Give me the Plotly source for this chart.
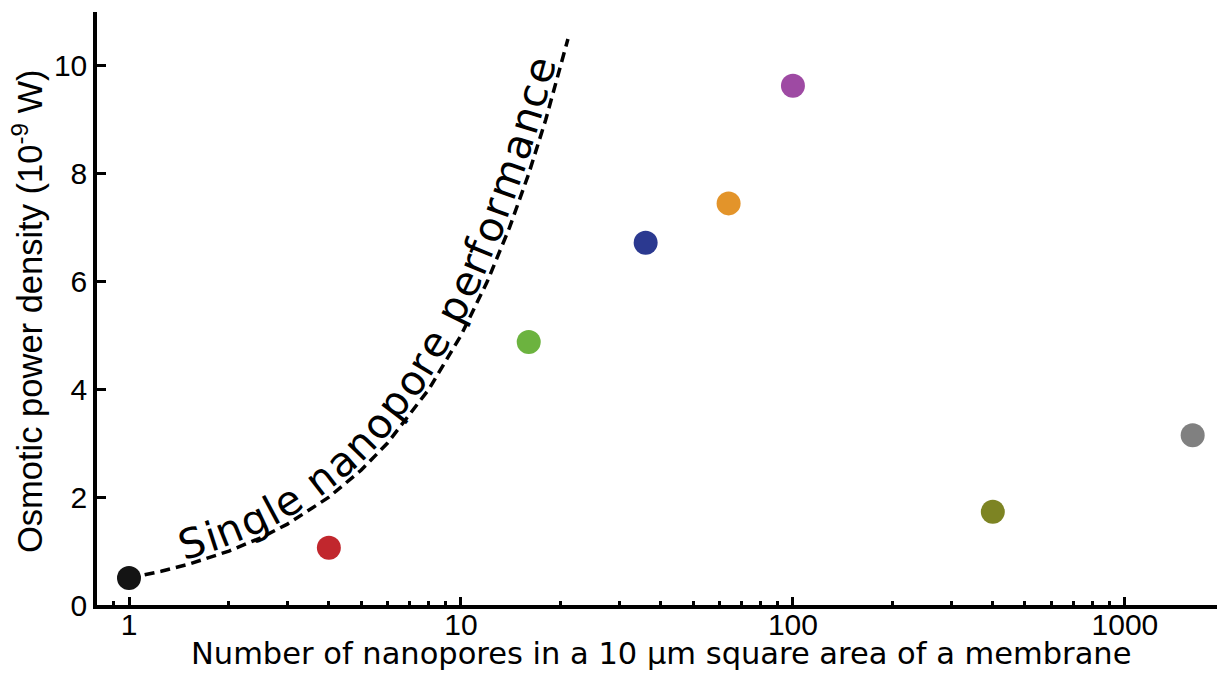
import math
import plotly.graph_objects as go

# ---------------- data ----------------
pores = [1, 4, 16, 36, 64, 100, 400, 1600]
power = [0.50, 1.06, 4.88, 6.72, 7.45, 9.63, 1.73, 3.15]
colors = ["#141414", "#c1272d", "#6cb33f", "#2b3990", "#e3942a",
          "#9e4aa3", "#7d8423", "#808080"]

line_x = [1, 1.25, 1.5, 2, 2.5, 3, 4, 5, 6, 8, 10, 12, 14, 16, 18, 21]
line_y = [0.5, 0.625, 0.75, 1, 1.25, 1.5, 2, 2.5, 3, 4, 5, 6, 7, 8, 9, 10.5]

x_ticks = [1, 10, 100, 1000]
x_ticktext = ["1", "10", "100", "1000"]
x_minor = [0.9, 2, 3, 4, 5, 6, 7, 8, 9, 20, 30, 40, 50, 60, 70, 80, 90,
           200, 300, 400, 500, 600, 700, 800, 900]
y_ticks = [0, 2, 4, 6, 8, 10]

curve_label = "Single nanopore performance"
x_title = "Number of nanopores in a 10 µm square area of a membrane"
y_title = "Osmotic power density (10<sup>-9</sup> W)"

# ---------------- layout geometry ----------------
# the page adds an 8px body margin, so the figure is shrunk by 8px
OFF = 8
W, H = 1225 - OFF, 683 - OFF
ML, MR, MT, MB = 97 - OFF, 0, 12 - OFF, 78
PW, PH = W - ML - MR, H - MT - MB
XR = [-0.0964, 3.3015]   # log10 range
YR = [0, 11]

def to_px(x, y):
    px = ML + (math.log10(x) - XR[0]) / (XR[1] - XR[0]) * PW
    py = MT + (1 - (y - YR[0]) / (YR[1] - YR[0])) * PH
    return px, py

fig = go.Figure()

fig.add_trace(go.Scatter(
    x=line_x, y=line_y, mode="lines",
    line=dict(color="black", width=3.5, dash="10px,6px"),
    hoverinfo="skip", showlegend=False))

fig.add_trace(go.Scatter(
    x=pores, y=power, mode="markers",
    marker=dict(size=24, color=colors, line=dict(width=0)),
    showlegend=False))

# ---------------- curved label along the dashed line ----------------
pts = [to_px(x, y) for x, y in zip(line_x, line_y)]
cum = [0.0]
for i in range(1, len(pts)):
    cum.append(cum[-1] + math.hypot(pts[i][0] - pts[i-1][0], pts[i][1] - pts[i-1][1]))

def point_at(s):
    s = max(0.0, min(s, cum[-1]))
    for i in range(1, len(cum)):
        if s <= cum[i]:
            t = (s - cum[i-1]) / (cum[i] - cum[i-1])
            return (pts[i-1][0] + t * (pts[i][0] - pts[i-1][0]),
                    pts[i-1][1] + t * (pts[i][1] - pts[i-1][1]))
    return pts[-1]

widths = {'S': 0.635, 'i': 0.278, 'n': 0.634, 'g': 0.635, 'l': 0.278,
          'e': 0.615, ' ': 0.318, 'a': 0.613, 'o': 0.612, 'p': 0.635,
          'r': 0.411, 'f': 0.352, 'm': 0.974, 'c': 0.550}
FS = 41
S0, S1 = 57.0, 720.0
D = 19.0
total = sum(widths[c] for c in curve_label)
acc = 0.0
for ch in curve_label:
    w = widths[ch]
    s = S0 + (acc + w / 2) / total * (S1 - S0)
    acc += w
    if ch == ' ':
        continue
    cx, cy = point_at(s)
    a = point_at(s - 12)
    b = point_at(s + 12)
    dx, dy = b[0] - a[0], b[1] - a[1]
    n = math.hypot(dx, dy)
    tx, ty = dx / n, dy / n
    nx, ny = ty, -tx
    qx, qy = cx + nx * D, cy + ny * D
    ang = math.degrees(math.atan2(dy, dx))
    fig.add_annotation(
        xref="paper", yref="paper",
        x=(qx - ML) / PW, y=(MT + PH - qy) / PH,
        text=ch, showarrow=False, textangle=ang,
        xanchor="center", yanchor="middle",
        font=dict(family="DejaVu Sans", size=FS, color="black"))

# axis titles as annotations (positions in page pixels minus the offset)
fig.add_annotation(xref="paper", yref="paper", x=(661 - OFF - ML) / PW, y=0,
                   yshift=-(653 - OFF - (MT + PH)), xanchor="center", yanchor="middle",
                   text=x_title, showarrow=False,
                   font=dict(family="DejaVu Sans", size=30.5, color="black"))
fig.add_annotation(xref="paper", yref="paper", x=0, xshift=-(ML - (27 - OFF)),
                   y=(MT + PH - (311 - OFF)) / PH, xanchor="center", yanchor="middle",
                   text=y_title, showarrow=False, textangle=-90,
                   font=dict(family="Liberation Sans", size=34.5, color="black"))

fig.update_layout(
    template="none",
    width=W, height=H,
    margin=dict(l=ML, r=MR, t=MT, b=MB, pad=0),
    paper_bgcolor="white", plot_bgcolor="white",
    font=dict(family="Liberation Sans", color="black"),
    xaxis=dict(type="log", range=XR, tickmode="array", tickvals=x_ticks,
               ticktext=x_ticktext, ticks="inside", ticklen=8, tickwidth=3,
               tickcolor="black", showline=True, linecolor="black", linewidth=3.5,
               showgrid=False, zeroline=False, automargin=False,
               ticklabelstandoff=-10,
               tickfont=dict(family="Liberation Sans", size=30),
               minor=dict(tickvals=x_minor, ticks="inside", ticklen=4,
                          tickwidth=2.5, tickcolor="black", showgrid=False)),
    yaxis=dict(range=YR, tickmode="array", tickvals=y_ticks,
               ticks="inside", ticklen=9, tickwidth=3, tickcolor="black",
               showline=True, linecolor="black", linewidth=3.5,
               showgrid=False, zeroline=False, automargin=False,
               tickfont=dict(family="Liberation Sans", size=30)),
)

fig.write_html("out.html")
